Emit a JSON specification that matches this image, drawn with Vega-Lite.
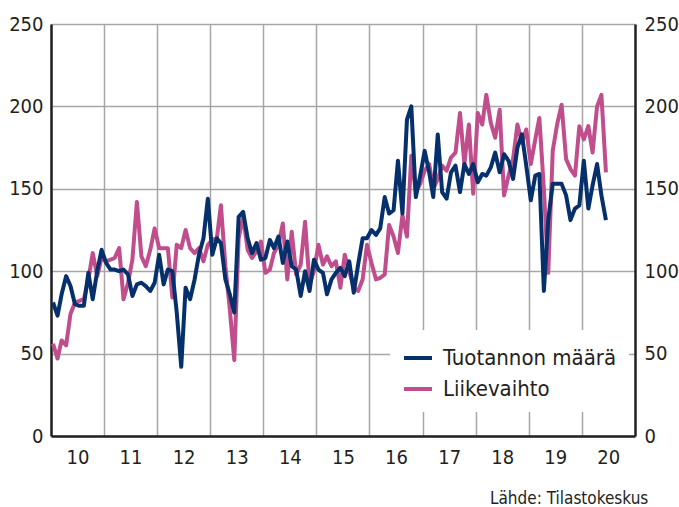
{
  "$schema": "https://vega.github.io/schema/vega-lite/v6.json",
  "width": 584,
  "height": 412,
  "autosize": {"type": "none"},
  "padding": {"left": 51, "top": 24, "right": 44, "bottom": 71},
  "background": "white",
  "config": {
    "view": {"stroke": null},
    "font": "DejaVu Sans Condensed, Roboto, sans-serif",
    "axis": {"labelFont": "DejaVu Sans Condensed, Roboto, sans-serif", "labelColor": "#231f20", "titleColor": "#231f20"}
  },
  "title": {
    "text": "Lähde: Tilastokeskus",
    "orient": "bottom",
    "anchor": "end",
    "font": "DejaVu Sans Condensed, Roboto, sans-serif",
    "fontSize": 17,
    "fontWeight": "normal",
    "color": "#231f20",
    "offset": 24,
    "dx": -30
  },
  "data": {
    "values": [
      {"d": "2010-01-15", "t": 81, "l": 56}, {"d": "2010-02-15", "t": 73, "l": 47}, {"d": "2010-03-15", "t": 86, "l": 58}, {"d": "2010-04-15", "t": 97, "l": 55}, {"d": "2010-05-15", "t": 91, "l": 74}, {"d": "2010-06-15", "t": 80, "l": 81}, {"d": "2010-07-15", "t": 79, "l": 82}, {"d": "2010-08-15", "t": 79, "l": 83}, {"d": "2010-09-15", "t": 99, "l": 95}, {"d": "2010-10-15", "t": 83, "l": 111}, {"d": "2010-11-15", "t": 100, "l": 97}, {"d": "2010-12-15", "t": 113, "l": 108},
      {"d": "2011-01-15", "t": 105, "l": 106}, {"d": "2011-02-15", "t": 101, "l": 107}, {"d": "2011-03-15", "t": 101, "l": 108}, {"d": "2011-04-15", "t": 100, "l": 114}, {"d": "2011-05-15", "t": 101, "l": 83}, {"d": "2011-06-15", "t": 98, "l": 93}, {"d": "2011-07-15", "t": 85, "l": 107}, {"d": "2011-08-15", "t": 92, "l": 142}, {"d": "2011-09-15", "t": 93, "l": 109}, {"d": "2011-10-15", "t": 91, "l": 103}, {"d": "2011-11-15", "t": 88, "l": 113}, {"d": "2011-12-15", "t": 93, "l": 126},
      {"d": "2012-01-15", "t": 110, "l": 114}, {"d": "2012-02-15", "t": 92, "l": 114}, {"d": "2012-03-15", "t": 101, "l": 114}, {"d": "2012-04-15", "t": 100, "l": 84}, {"d": "2012-05-15", "t": 75, "l": 116}, {"d": "2012-06-15", "t": 42, "l": 114}, {"d": "2012-07-15", "t": 90, "l": 125}, {"d": "2012-08-15", "t": 83, "l": 114}, {"d": "2012-09-15", "t": 95, "l": 111}, {"d": "2012-10-15", "t": 110, "l": 114}, {"d": "2012-11-15", "t": 120, "l": 106}, {"d": "2012-12-15", "t": 144, "l": 116},
      {"d": "2013-01-15", "t": 110, "l": 119}, {"d": "2013-02-15", "t": 120, "l": 120}, {"d": "2013-03-15", "t": 117, "l": 140}, {"d": "2013-04-15", "t": 95, "l": 103}, {"d": "2013-05-15", "t": 86, "l": 77}, {"d": "2013-06-15", "t": 75, "l": 46}, {"d": "2013-07-15", "t": 133, "l": 120}, {"d": "2013-08-15", "t": 136, "l": 133}, {"d": "2013-09-15", "t": 120, "l": 113}, {"d": "2013-10-15", "t": 111, "l": 108}, {"d": "2013-11-15", "t": 117, "l": 112}, {"d": "2013-12-15", "t": 107, "l": 118},
      {"d": "2014-01-15", "t": 108, "l": 99}, {"d": "2014-02-15", "t": 119, "l": 101}, {"d": "2014-03-15", "t": 114, "l": 111}, {"d": "2014-04-15", "t": 121, "l": 116}, {"d": "2014-05-15", "t": 105, "l": 129}, {"d": "2014-06-15", "t": 118, "l": 95}, {"d": "2014-07-15", "t": 103, "l": 124}, {"d": "2014-08-15", "t": 101, "l": 98}, {"d": "2014-09-15", "t": 85, "l": 104}, {"d": "2014-10-15", "t": 100, "l": 130}, {"d": "2014-11-15", "t": 88, "l": 92}, {"d": "2014-12-15", "t": 107, "l": 100},
      {"d": "2015-01-15", "t": 101, "l": 116}, {"d": "2015-02-15", "t": 99, "l": 104}, {"d": "2015-03-15", "t": 86, "l": 109}, {"d": "2015-04-15", "t": 95, "l": 103}, {"d": "2015-05-15", "t": 99, "l": 106}, {"d": "2015-06-15", "t": 102, "l": 90}, {"d": "2015-07-15", "t": 97, "l": 110}, {"d": "2015-08-15", "t": 106, "l": 100}, {"d": "2015-09-15", "t": 87, "l": 90}, {"d": "2015-10-15", "t": 104, "l": 88}, {"d": "2015-11-15", "t": 120, "l": 95}, {"d": "2015-12-15", "t": 120, "l": 116},
      {"d": "2016-01-15", "t": 125, "l": 105}, {"d": "2016-02-15", "t": 122, "l": 95}, {"d": "2016-03-15", "t": 126, "l": 96}, {"d": "2016-04-15", "t": 145, "l": 98}, {"d": "2016-05-15", "t": 135, "l": 128}, {"d": "2016-06-15", "t": 137, "l": 121}, {"d": "2016-07-15", "t": 167, "l": 111}, {"d": "2016-08-15", "t": 135, "l": 134}, {"d": "2016-09-15", "t": 192, "l": 121}, {"d": "2016-10-15", "t": 200, "l": 170}, {"d": "2016-11-15", "t": 145, "l": 148}, {"d": "2016-12-15", "t": 158, "l": 153},
      {"d": "2017-01-15", "t": 173, "l": 161}, {"d": "2017-02-15", "t": 160, "l": 165}, {"d": "2017-03-15", "t": 145, "l": 150}, {"d": "2017-04-15", "t": 183, "l": 156}, {"d": "2017-05-15", "t": 148, "l": 164}, {"d": "2017-06-15", "t": 144, "l": 161}, {"d": "2017-07-15", "t": 160, "l": 169}, {"d": "2017-08-15", "t": 164, "l": 172}, {"d": "2017-09-15", "t": 148, "l": 196}, {"d": "2017-10-15", "t": 165, "l": 165}, {"d": "2017-11-15", "t": 159, "l": 189}, {"d": "2017-12-15", "t": 165, "l": 147},
      {"d": "2018-01-15", "t": 154, "l": 196}, {"d": "2018-02-15", "t": 159, "l": 189}, {"d": "2018-03-15", "t": 158, "l": 207}, {"d": "2018-04-15", "t": 163, "l": 190}, {"d": "2018-05-15", "t": 172, "l": 181}, {"d": "2018-06-15", "t": 160, "l": 198}, {"d": "2018-07-15", "t": 171, "l": 146}, {"d": "2018-08-15", "t": 167, "l": 158}, {"d": "2018-09-15", "t": 156, "l": 168}, {"d": "2018-10-15", "t": 175, "l": 189}, {"d": "2018-11-15", "t": 183, "l": 178}, {"d": "2018-12-15", "t": 164, "l": 186},
      {"d": "2019-01-15", "t": 143, "l": 165}, {"d": "2019-02-15", "t": 158, "l": 180}, {"d": "2019-03-15", "t": 159, "l": 193}, {"d": "2019-04-15", "t": 88, "l": 150}, {"d": "2019-05-15", "t": 131, "l": 99}, {"d": "2019-06-15", "t": 153, "l": 173}, {"d": "2019-07-15", "t": 153, "l": 189}, {"d": "2019-08-15", "t": 153, "l": 201}, {"d": "2019-09-15", "t": 146, "l": 168}, {"d": "2019-10-15", "t": 131, "l": 162}, {"d": "2019-11-15", "t": 138, "l": 158}, {"d": "2019-12-15", "t": 140, "l": 188},
      {"d": "2020-01-15", "t": 167, "l": 180}, {"d": "2020-02-15", "t": 138, "l": 188}, {"d": "2020-03-15", "t": 152, "l": 172}, {"d": "2020-04-15", "t": 165, "l": 200}, {"d": "2020-05-15", "t": 146, "l": 207}, {"d": "2020-06-15", "t": 131, "l": 160}
    ]
  },
  "encoding": {
    "x": {
      "field": "d",
      "type": "temporal",
      "scale": {"type": "utc", "domain": [{"year": 2010, "month": 1, "date": 1, "utc": true}, {"year": 2021, "month": 1, "date": 1, "utc": true}]},
      "axis": {
        "title": null,
        "format": "%y",
        "values": [
          {"year": 2010, "month": 1, "date": 1, "utc": true}, {"year": 2011, "month": 1, "date": 1, "utc": true},
          {"year": 2012, "month": 1, "date": 1, "utc": true}, {"year": 2013, "month": 1, "date": 1, "utc": true},
          {"year": 2014, "month": 1, "date": 1, "utc": true}, {"year": 2015, "month": 1, "date": 1, "utc": true},
          {"year": 2016, "month": 1, "date": 1, "utc": true}, {"year": 2017, "month": 1, "date": 1, "utc": true},
          {"year": 2018, "month": 1, "date": 1, "utc": true}, {"year": 2019, "month": 1, "date": 1, "utc": true},
          {"year": 2020, "month": 1, "date": 1, "utc": true}
        ],
        "grid": true,
        "gridColor": "#a6a6a6",
        "gridWidth": 1.5,
        "ticks": false,
        "domain": true,
        "domainColor": "#231f20",
        "domainWidth": 2.5,
        "labelOffset": 26.5,
        "labelPadding": 11,
        "labelFontSize": 20,
        "labelFlush": false,
        "labelOverlap": false,
        "labelBound": false
      }
    }
  },
  "layer": [
    {
      "mark": {"type": "line", "strokeWidth": 4, "strokeJoin": "round"},
      "encoding": {
        "y": {
          "field": "l",
          "type": "quantitative",
          "scale": {"domain": [0, 250], "nice": false},
          "axis": {
            "orient": "left",
            "title": null,
            "values": [0, 50, 100, 150, 200, 250],
            "grid": true,
            "gridColor": "#a6a6a6",
            "gridWidth": 1.5,
            "ticks": false,
            "domain": true,
            "domainColor": "#231f20",
            "domainWidth": 2.5,
            "labelPadding": 8,
            "labelFontSize": 20
          }
        },
        "color": {
          "datum": "Liikevaihto",
          "scale": {"domain": ["Tuotannon määrä", "Liikevaihto"], "range": ["#05306b", "#c04d8c"]},
          "legend": {
            "title": null,
            "orient": "none",
            "legendX": 339,
            "legendY": 306,
            "fillColor": "white",
            "padding": 12,
            "symbolType": "stroke",
            "symbolSize": 784,
            "symbolStrokeWidth": 4,
            "labelFont": "DejaVu Sans Condensed, Roboto, sans-serif",
            "labelFontSize": 22,
            "labelColor": "#231f20",
            "labelOffset": 9,
            "labelLimit": 400,
            "rowPadding": 4
          }
        }
      }
    },
    {
      "mark": {"type": "line", "strokeWidth": 4, "strokeJoin": "round"},
      "encoding": {
        "y": {
          "field": "t",
          "type": "quantitative",
          "scale": {"domain": [0, 250], "nice": false},
          "axis": {
            "orient": "right",
            "title": null,
            "values": [0, 50, 100, 150, 200, 250],
            "grid": false,
            "ticks": false,
            "domain": true,
            "domainColor": "#231f20",
            "domainWidth": 2.5,
            "labelPadding": 9,
            "labelFontSize": 20
          }
        },
        "color": {"datum": "Tuotannon määrä"}
      }
    }
  ],
  "resolve": {"scale": {"y": "independent"}}
}
